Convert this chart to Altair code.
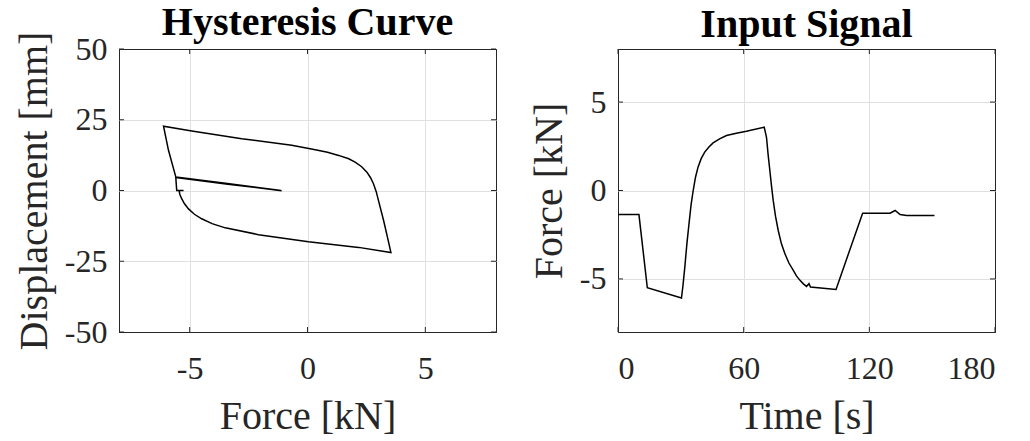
import altair as alt
import pandas as pd

# ---- Hysteresis curve (force vs displacement), in path order ----
hyst_force = [-1.12, -3.40, -5.59, -5.90, -6.11, -4.91, -2.79, -0.67, 0.33, 0.85, 1.32, 1.75,
              2.02, 2.30, 2.52, 2.67, 2.80, 2.92, 3.01, 3.23, 3.41, 3.54, 2.17, 0.04, -2.08,
              -3.49, -4.05, -4.49, -4.80, -5.05, -5.22, -5.34, -5.42, -5.45, -5.26, -5.55,
              -5.59, -3.38, -1.10]
hyst_disp = [0.0, 2.45, 4.8, 14.2, 22.7, 21.0, 18.3, 16.0, 14.4, 13.5, 12.4, 11.2,
             10.0, 8.4, 6.5, 4.6, 2.4, -0.5, -3.5, -10.6, -17.1, -21.9, -20.1, -18.1, -15.6,
             -13.2, -11.7, -10.0, -8.4, -6.5, -4.7, -2.9, -1.3, 0.0, 0.0, 0.0,
             4.6, 2.25, -0.1]

# ---- Input signal (force vs time) ----
sig_time = [0.0, 10.0, 14.0, 30.3, 31.0, 31.9, 32.9, 33.9, 34.9, 35.9, 37.0, 38.2, 39.7,
            41.4, 43.3, 45.4, 48.5, 51.8, 56.5, 61.3, 69.8, 70.9, 71.7, 72.5, 73.3, 74.1,
            75.2, 76.5, 78.0, 79.7, 81.6, 83.7, 85.2, 86.9, 88.5, 90.0, 91.2, 91.9, 104.1,
            116.8, 129.9, 132.3, 134.7, 137.8, 151.1]
sig_force = [-1.36, -1.36, -5.50, -6.08, -5.40, -4.33, -3.00, -1.88, -0.80, 0.0, 0.75, 1.32,
             1.80, 2.17, 2.45, 2.69, 2.92, 3.11, 3.24, 3.35, 3.58, 3.01, 2.00, 1.13, 0.25,
             -0.56, -1.45, -2.26, -3.00, -3.58, -4.10, -4.52, -4.83, -5.08, -5.28, -5.42,
             -5.27, -5.46, -5.59, -1.28, -1.28, -1.13, -1.36, -1.41, -1.41]

# ---- Tick values ----
hyst_x_ticks = [-5, 0, 5]
hyst_y_ticks = [-50, -25, 0, 25, 50]
sig_x_ticks = [0, 60, 120, 180]
sig_y_ticks = [-5, 0, 5]
hyst_x_domain = [-8, 8]
hyst_y_domain = [-50, 50]
sig_x_domain = [0, 180]
sig_y_domain = [-8, 8]

hyst = pd.DataFrame({"order": list(range(len(hyst_force))), "force": hyst_force, "disp": hyst_disp})
sig = pd.DataFrame({"time": sig_time, "force": sig_force})

FONT = "Liberation Serif"
TXT = "#262626"
GRID = "#e0e0e0"
LBL = "datum.value < 0 ? '-' + abs(datum.value) : '' + datum.value"
W, H, TL = 377, 283, 5


def ax(title, values, orient, edges):
    test = " || ".join(f"datum.value == {e}" for e in edges) if edges else "false"
    return alt.Axis(
        title=title, values=values, grid=True,
        gridColor={"condition": {"test": test, "value": TXT}, "value": GRID}, gridWidth=1,
        domain=False, ticks=False, labelExpr=LBL,
        labelFont=FONT, labelFontSize=32, labelColor=TXT,
        labelPadding=12 if orient == "y" else 21,
        titleFont=FONT, titleFontSize=40, titleFontWeight="normal", titleColor=TXT,
        titlePadding=10 if orient == "y" else 12,
    )


def panel(df, xfield, xtitle, xvals, xdom, xedges, yfield, ytitle, yvals, ydom, yedges, order):
    xs = alt.Scale(domain=xdom, nice=False, zero=False)
    ys = alt.Scale(domain=ydom, nice=False, zero=False)
    xa = ax(xtitle, xvals, "x", xedges)
    ya = ax(ytitle, yvals, "y", yedges)
    X = lambda: alt.X(f"{xfield}:Q", scale=xs, axis=xa, title=xtitle)
    Y = lambda: alt.Y(f"{yfield}:Q", scale=ys, axis=ya, title=ytitle)
    line = alt.Chart(df).mark_line(color="black", strokeWidth=1.5).encode(
        x=X(), y=Y(), order=order)
    xdf = pd.DataFrame({xfield: xvals})
    ydf = pd.DataFrame({yfield: yvals})
    rule = dict(color=TXT, strokeWidth=1)
    ticks = [
        alt.Chart(xdf).mark_rule(**rule).encode(x=X(), y=alt.value(H), y2=alt.value(H - TL)),
        alt.Chart(xdf).mark_rule(**rule).encode(x=X(), y=alt.value(0), y2=alt.value(TL)),
        alt.Chart(ydf).mark_rule(**rule).encode(y=Y(), x=alt.value(0), x2=alt.value(TL)),
        alt.Chart(ydf).mark_rule(**rule).encode(y=Y(), x=alt.value(W - TL), x2=alt.value(W)),
    ]
    return alt.layer(line, *ticks)


left = panel(hyst, "force", "Force [kN]", hyst_x_ticks, hyst_x_domain, [],
             "disp", "Displacement [mm]", hyst_y_ticks, hyst_y_domain, [-50, 50],
             "order:Q").properties(
    width=W, height=H,
    title=alt.TitleParams("Hysteresis Curve", font=FONT, fontSize=40, fontWeight="bold",
                          color="black", anchor="middle", frame="group", offset=-12),
)

right = panel(sig, "time", "Time [s]", sig_x_ticks, sig_x_domain, [0, 180],
              "force", "Force [kN]", sig_y_ticks, sig_y_domain, [],
              "time:Q").properties(
    width=W, height=H,
    title=alt.TitleParams("Input Signal", font=FONT, fontSize=40, fontWeight="bold",
                          color="black", anchor="middle", frame="group", offset=4),
)

chart = alt.hconcat(left, right, spacing=31).properties(
    padding={"left": 13, "top": 2, "right": 5, "bottom": 0},
    background="white",
).configure_view(stroke=TXT, strokeWidth=1)

chart.save("out.html", embed_options={"renderer": "svg", "actions": False})
